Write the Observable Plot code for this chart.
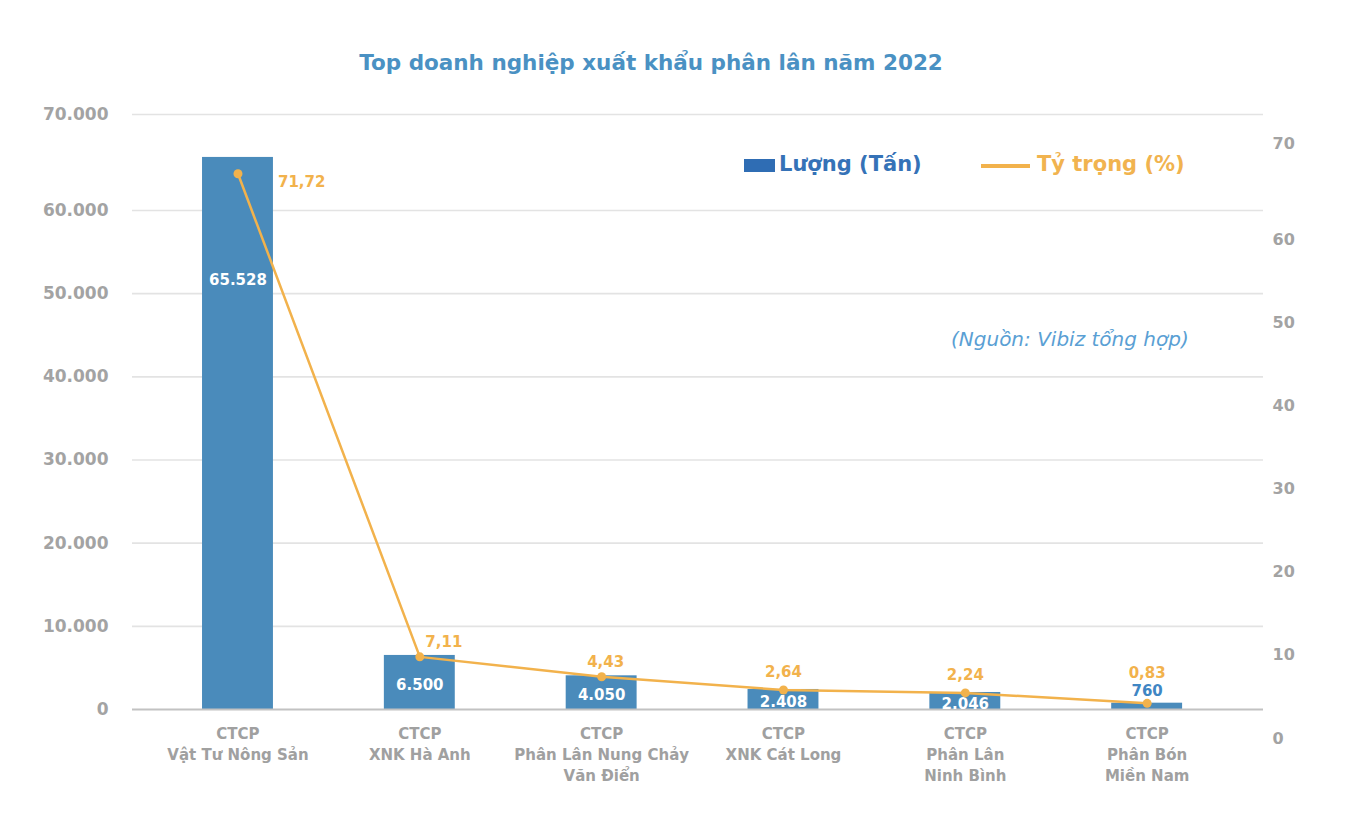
<!DOCTYPE html>
<html>
<head>
<meta charset="utf-8">
<script src="https://cdn.jsdelivr.net/npm/d3@7"></script>
<script src="https://cdn.jsdelivr.net/npm/@observablehq/plot@0.6"></script>
<style>
  html, body { margin: 0; padding: 0; background: #ffffff; }
  #wrap { position: relative; width: 1352px; height: 840px; overflow: hidden; }
  .ov { position: absolute; white-space: nowrap; font-family: "DejaVu Sans", sans-serif; }
  #title { left: 0; width: 1302px; top: 50px; text-align: center; font-size: 21.5px; font-weight: bold; color: #4a91c3; }
  #leg1sw { left: 744px; top: 159px; width: 31px; height: 13px; background: #2f6db4; }
  #leg1 { left: 779px; top: 152px; font-size: 21px; font-weight: bold; color: #3572b7; }
  #leg2sw { left: 981px; top: 164px; width: 49px; height: 4px; background: #f2b24c; }
  #leg2 { left: 1037px; top: 152px; font-size: 21px; font-weight: bold; color: #f1b34f; }
  #source { left: 951px; top: 327px; font-size: 20px; font-style: italic; color: #5a9fd4; }
</style>
</head>
<body>
<div id="wrap">
  <div id="chart"></div>
  <div class="ov" id="title">Top doanh nghiệp xuất khẩu phân lân năm 2022</div>
  <div class="ov" id="leg1sw"></div>
  <div class="ov" id="leg1">Lượng (Tấn)</div>
  <div class="ov" id="leg2sw"></div>
  <div class="ov" id="leg2">Tỷ trọng (%)</div>
  <div class="ov" id="source">(Nguồn: Vibiz tổng hợp)</div>
</div>
<script>
// ---- data ----
const companies = [
  "CTCP\nVật Tư Nông Sản",
  "CTCP\nXNK Hà Anh",
  "CTCP\nPhân Lân Nung Chảy\nVăn Điển",
  "CTCP\nXNK Cát Long",
  "CTCP\nPhân Lân\nNinh Bình",
  "CTCP\nPhân Bón\nMiền Nam"
];
const volumes = [65528, 6500, 4050, 2408, 2046, 760];      // Lượng (Tấn)
const shares = [71.72, 7.11, 4.43, 2.64, 2.24, 0.83];      // Tỷ trọng (%)
const leftTicks = [0, 10000, 20000, 30000, 40000, 50000, 60000, 70000];
const rightTicks = [0, 10, 20, 30, 40, 50, 60, 70];

// ---- helpers ----
const vi = d3.formatLocale({decimal: ",", thousands: ".", grouping: [3], currency: ["", ""]});
const fmtInt = vi.format(",d");
const fmtPct = vi.format(".2f");
const rows = companies.map((c, i) => ({company: c, volume: volumes[i], share: shares[i], i}));

// secondary (percent) series drawn in primary units
const shareToY = d3.scaleLinear().domain([0, 100]).range([0, 89000]);
const rightTickToY = d3.scaleLinear().domain([0, 70]).range([0, 70000]);

const orange = "#f2b24c";
const barBlue = "#4a8bbb";
const grey = "#a3a3a3";
const font = "DejaVu Sans, sans-serif";

// per-label offsets (styling)
const pctOffsets = [
  {dx: 40, dy: 8, anchor: "start"},
  {dx: 24, dy: -15, anchor: "middle"},
  {dx: 4, dy: -15, anchor: "middle"},
  {dx: 0, dy: -18, anchor: "middle"},
  {dx: 0, dy: -18, anchor: "middle"},
  {dx: 0, dy: -30, anchor: "middle"}
];

const pctLabelMarks = rows.map((r, i) => Plot.text([r], {
  x: "company", y: d => shareToY(d.share), text: d => fmtPct(d.share),
  dx: pctOffsets[i].dx, dy: pctOffsets[i].dy, textAnchor: pctOffsets[i].anchor,
  fill: orange, fontSize: 15, fontWeight: "bold", fontFamily: font
}));

const chart = Plot.plot({
  width: 1352,
  height: 840,
  marginLeft: 132,
  marginRight: 89,
  marginTop: 114,
  marginBottom: 131,
  style: {fontFamily: font, background: "transparent"},
  x: {domain: companies, paddingInner: 0.61, paddingOuter: 0.415, align: 0.464, round: false, label: null},
  y: {type: "linear", domain: [0, 60000, 70000], range: [709, 210, 114], label: null},
  marks: [
    Plot.gridY(leftTicks.slice(1), {stroke: "#e3e3e3", strokeOpacity: 1, strokeWidth: 1.6}),
    Plot.axisY(leftTicks, {anchor: "left", tickSize: 0, tickPadding: 24, tickFormat: fmtInt,
      fill: grey, fontSize: 17, fontWeight: "bold", fontFamily: font, label: null}),
    Plot.axisY(rightTicks.map(t => rightTickToY(t)), {anchor: "right", tickSize: 0, tickPadding: 9,
      tickFormat: v => String(Math.round(rightTickToY.invert(v))), dy: 29,
      fill: grey, fontSize: 16, fontWeight: "bold", fontFamily: font, label: null}),
    Plot.barY(rows, {x: "company", y: "volume", fill: barBlue}),
    Plot.ruleY([0], {stroke: "#c2c2c2", strokeWidth: 2}),
    Plot.axisX({anchor: "bottom", tickSize: 0, tickPadding: 15, lineHeight: 1.4,
      fill: "#a0a0a0", fontSize: 15, fontWeight: "bold", fontFamily: font, label: null}),
    // bar value labels
    Plot.text(rows.filter(d => d.i === 0), {x: "company", y: "volume", text: d => fmtInt(d.volume),
      dy: 123, fill: "white", fontSize: 15, fontWeight: "bold", fontFamily: font}),
    Plot.text(rows.filter(d => d.i > 0 && d.i < 5), {x: "company", y: d => d.volume / 2, text: d => fmtInt(d.volume),
      dy: 3, fill: "white", fontSize: 15, fontWeight: "bold", fontFamily: font}),
    Plot.text(rows.filter(d => d.i === 5), {x: "company", y: "volume", text: d => fmtInt(d.volume),
      dy: -12, fill: "#3f86c4", fontSize: 15, fontWeight: "bold", fontFamily: font}),
    // share line
    Plot.line(rows, {x: "company", y: d => shareToY(d.share), stroke: orange, strokeWidth: 2.5}),
    Plot.dot(rows, {x: "company", y: d => shareToY(d.share), r: 4.5, fill: orange, stroke: "none"}),
    ...pctLabelMarks
  ]
});
document.getElementById("chart").appendChild(chart);
</script>
</body>
</html>
